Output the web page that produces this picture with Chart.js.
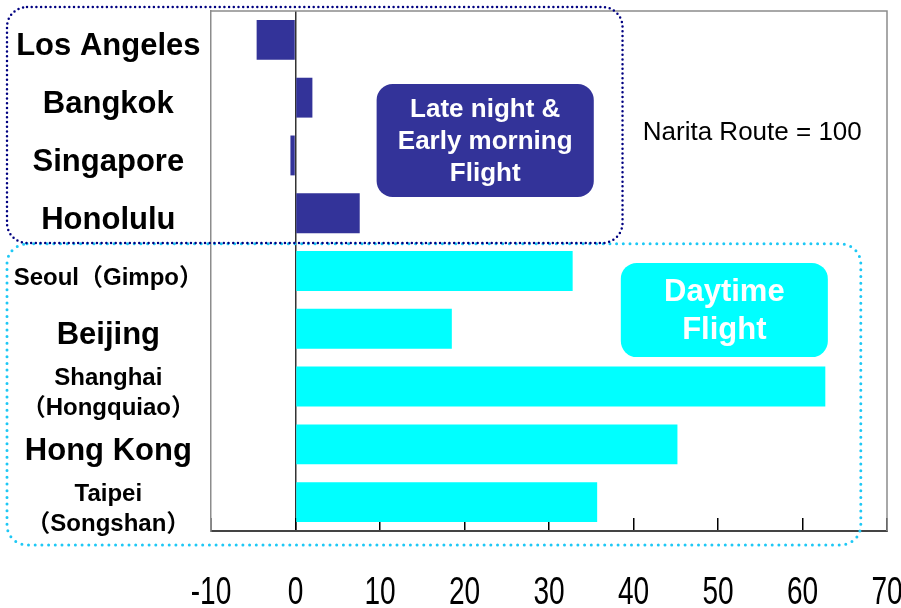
<!DOCTYPE html>
<html>
<head>
<meta charset="utf-8">
<script src="https://cdn.jsdelivr.net/npm/chart.js@4/dist/chart.umd.min.js"></script>
<style>
  body { margin: 0; background: #fff; }
  #wrap { width: 901px; height: 608px; }
</style>
</head>
<body>
<div id="wrap"><canvas id="myChart" width="901" height="608"></canvas></div>
<script>
// routes (top to bottom) and their index vs Narita route (=100)
const cities = [
  'Los Angeles', 'Bangkok', 'Singapore', 'Honolulu',
  'Seoul（Gimpo）', 'Beijing', ['Shanghai', '（Hongquiao）'], 'Hong Kong', ['Taipei', '（Songshan）']
];
const values = [-4.6, 2.0, -0.6, 7.6, 32.8, 18.5, 62.7, 45.2, 35.7];
const flightType = ['night', 'night', 'night', 'night', 'day', 'day', 'day', 'day', 'day'];
const labelSize = [31, 31, 31, 31, 24, 31, 24, 31, 24];
const xTicks = [-10, 0, 10, 20, 30, 40, 50, 60, 70];

const NAVY = '#333399';
const CYAN = '#00FFFF';

// rounded rectangle path
function rrPath(ctx, x, y, w, h, r) {
  ctx.beginPath();
  ctx.moveTo(x + r, y);
  ctx.lineTo(x + w - r, y);
  ctx.arcTo(x + w, y, x + w, y + r, r);
  ctx.lineTo(x + w, y + h - r);
  ctx.arcTo(x + w, y + h, x + w - r, y + h, r);
  ctx.lineTo(x + r, y + h);
  ctx.arcTo(x, y + h, x, y + h - r, r);
  ctx.lineTo(x, y + r);
  ctx.arcTo(x, y, x + r, y, r);
  ctx.closePath();
}

// x tick labels in the original are a tall condensed face -> squeeze them horizontally
const squeezeTicks = {
  id: 'squeezeTicks',
  afterLayout(chart) {
    const sc = chart.scales.x;
    if (sc._squeezed) return;
    const orig = sc.drawLabels;
    sc.drawLabels = function(area) {
      const c = this.ctx;
      const ft = c.fillText;
      c.fillText = function(t, x, y, m) {
        this.save();
        this.translate(x, y);
        this.scale(0.72, 1);
        ft.call(this, t, 0, 0, m);
        this.restore();
      };
      orig.call(this, area);
      c.fillText = ft;
    };
    sc._squeezed = true;
  }
};

const decorations = {
  id: 'decorations',
  afterDatasetsDraw(chart) {
    const ctx = chart.ctx;
    const xs = chart.scales.x, ys = chart.scales.y;
    const area = chart.chartArea;
    ctx.save();

    // top / right frame of plot
    ctx.strokeStyle = '#8c8c8c';
    ctx.lineWidth = 1.5;
    ctx.beginPath();
    ctx.moveTo(area.left, area.top);
    ctx.lineTo(area.right, area.top);
    ctx.lineTo(area.right, area.bottom);
    ctx.stroke();

    // dotted group frames
    ctx.lineCap = 'round';
    ctx.strokeStyle = '#1EC8F5';
    ctx.lineWidth = 3;
    ctx.setLineDash([0, 6.7]);
    let top = ys.getPixelForValue(3.53), bot = area.bottom + 14;
    rrPath(ctx, 7, top, xs.getPixelForValue(66.9) - 7, bot - top, 20);
    ctx.stroke();

    ctx.strokeStyle = '#000080';
    ctx.lineWidth = 2.5;
    ctx.setLineDash([0, 4.7]);
    top = area.top - 4; bot = ys.getPixelForValue(3.515);
    rrPath(ctx, 7, top, xs.getPixelForValue(38.7) - 7, bot - top, 20);
    ctx.stroke();
    ctx.setLineDash([]);

    // Late night box
    let x1 = xs.getPixelForValue(9.6), x2 = xs.getPixelForValue(35.3);
    let y1 = ys.getPixelForValue(0.763), y2 = ys.getPixelForValue(2.72);
    ctx.fillStyle = NAVY;
    rrPath(ctx, x1, y1, x2 - x1, y2 - y1, 16);
    ctx.fill();
    ctx.fillStyle = '#fff';
    ctx.font = 'bold 26px "Liberation Sans", Arial, sans-serif';
    ctx.textAlign = 'center';
    ctx.textBaseline = 'middle';
    const cx1 = (x1 + x2) / 2, cy1 = (y1 + y2) / 2;
    ['Late night &', 'Early morning', 'Flight'].forEach((t, i) => {
      ctx.fillText(t, cx1, cy1 + 1 + (i - 1) * 32);
    });

    // Daytime box
    x1 = xs.getPixelForValue(38.5); x2 = xs.getPixelForValue(63.0);
    y1 = ys.getPixelForValue(3.86); y2 = ys.getPixelForValue(5.49);
    ctx.fillStyle = CYAN;
    rrPath(ctx, x1, y1, x2 - x1, y2 - y1, 16);
    ctx.fill();
    ctx.fillStyle = '#fff';
    ctx.font = 'bold 31px "Liberation Sans", Arial, sans-serif';
    const cx2 = (x1 + x2) / 2, cy2 = (y1 + y2) / 2;
    ['Daytime', 'Flight'].forEach((t, i) => {
      ctx.fillText(t, cx2, cy2 + 1 + (i - 0.5) * 38);
    });

    // note
    ctx.fillStyle = '#000';
    ctx.font = '26px "Liberation Sans", Arial, sans-serif';
    ctx.textAlign = 'left';
    ctx.fillText('Narita Route = 100', xs.getPixelForValue(41.1), ys.getPixelForValue(1.577) + 2);

    ctx.restore();
  }
};

const ctx = document.getElementById('myChart').getContext('2d');
const myChart = new Chart(ctx, {
  type: 'bar',
  data: {
    labels: cities,
    datasets: [{
      data: values,
      backgroundColor: flightType.map(t => t === 'night' ? NAVY : CYAN),
      borderWidth: 0,
      barPercentage: 0.69,
      categoryPercentage: 1
    }]
  },
  options: {
    indexAxis: 'y',
    responsive: false,
    animation: false,
    layout: { padding: { top: 11, right: 14, left: 0, bottom: 0 } },
    plugins: {
      legend: { display: false },
      tooltip: { enabled: false }
    },
    scales: {
      x: {
        min: -10,
        max: 70,
        afterBuildTicks: (axis) => { axis.ticks = xTicks.map(v => ({ value: v })); },
        afterFit: (axis) => {
          axis.height = 77;
          axis.paddingLeft = 0;
          axis.paddingRight = 0;
        },
        grid: {
          color: (c) => (c.tick && c.tick.value === 0) ? '#333' : 'rgba(0,0,0,0)',
          lineWidth: 1.5,
          tickColor: '#000',
          tickLength: -13,
          drawTicks: true
        },
        border: { color: '#444', width: 2 },
        ticks: {
          padding: 52,
          color: '#000',
          maxRotation: 0,
          font: { family: '"Liberation Sans", Arial, sans-serif', size: 39 }
        }
      },
      y: {
        afterFit: (axis) => {
          axis.width = 211;
          axis.paddingTop = 0;
          axis.paddingBottom = 0;
        },
        grid: { display: true, color: 'rgba(0,0,0,0)', drawTicks: false },
        border: { color: '#8c8c8c', width: 1.5 },
        ticks: {
          autoSkip: false,
          padding: 8,
          labelOffset: 7,
          crossAlign: 'center',
          color: '#000',
          font: (c) => ({
            family: '"Liberation Sans", Arial, "Noto Sans CJK JP", sans-serif',
            weight: 'bold',
            size: labelSize[c.index] || 31,
            lineHeight: 1.25
          })
        }
      }
    }
  },
  plugins: [squeezeTicks, decorations]
});
</script>
</body>
</html>
